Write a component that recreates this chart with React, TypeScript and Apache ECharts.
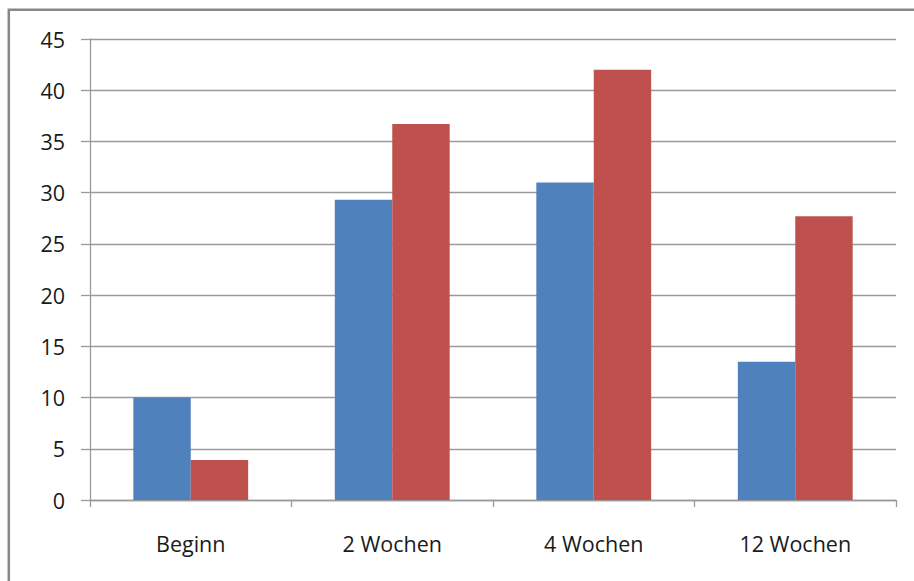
import React, { useEffect, useRef } from "react";
import * as echarts from "echarts";

const categories = ["Beginn", "2 Wochen", "4 Wochen", "12 Wochen"];
const seriesA = [10, 29.3, 31, 13.5];
const seriesB = [3.9, 36.7, 42, 27.7];
const yMin = 0;
const yMax = 45;
const yStep = 5;

export default function App() {
  const ref = useRef<HTMLDivElement>(null);
  useEffect(() => {
    if (!ref.current) return;
    const chart = echarts.init(ref.current, undefined, { renderer: "svg" });
    const font = "'Open Sans', 'Noto Sans', sans-serif";
    chart.setOption({
      animation: false,
      backgroundColor: "#ffffff",
      graphic: [
        {
          type: "rect",
          shape: { x: 8.8, y: 9.7, width: 960, height: 640 },
          style: { fill: "none", stroke: "#878787", lineWidth: 2.5 },
          silent: true,
        },
      ],
      grid: { left: 90, right: 18, top: 39, bottom: 81, containLabel: false },
      xAxis: {
        type: "category",
        data: categories,
        axisLine: { show: true, lineStyle: { color: "#9a9a9a", width: 1.3 } },
        axisTick: { show: true, length: 7, alignWithLabel: false, lineStyle: { color: "#9a9a9a", width: 1.3 } },
        axisLabel: { color: "#1a1a1a", fontSize: 21.5, fontFamily: font, margin: 32 },
        splitLine: { show: false },
      },
      yAxis: {
        type: "value",
        min: yMin,
        max: yMax,
        interval: yStep,
        axisLine: { show: true, lineStyle: { color: "#9a9a9a", width: 1.3 } },
        axisTick: { show: true, length: 9, lineStyle: { color: "#9a9a9a", width: 1.3 } },
        axisLabel: { color: "#1a1a1a", fontSize: 21.5, fontFamily: font, margin: 25 },
        splitLine: { show: true, lineStyle: { color: "#9a9a9a", width: 1.3 } },
      },
      series: [
        {
          type: "bar",
          data: seriesA,
          itemStyle: { color: "#4F81BD" },
          barGap: "0%",
          barCategoryGap: "43%",
        },
        {
          type: "bar",
          data: seriesB,
          itemStyle: { color: "#C0504D" },
          barGap: "0%",
          barCategoryGap: "43%",
        },
      ],
    });
    return () => chart.dispose();
  }, []);
  return (
    <div
      ref={ref}
      style={{ position: "absolute", left: 0, top: 0, width: 914, height: 581 }}
    />
  );
}
